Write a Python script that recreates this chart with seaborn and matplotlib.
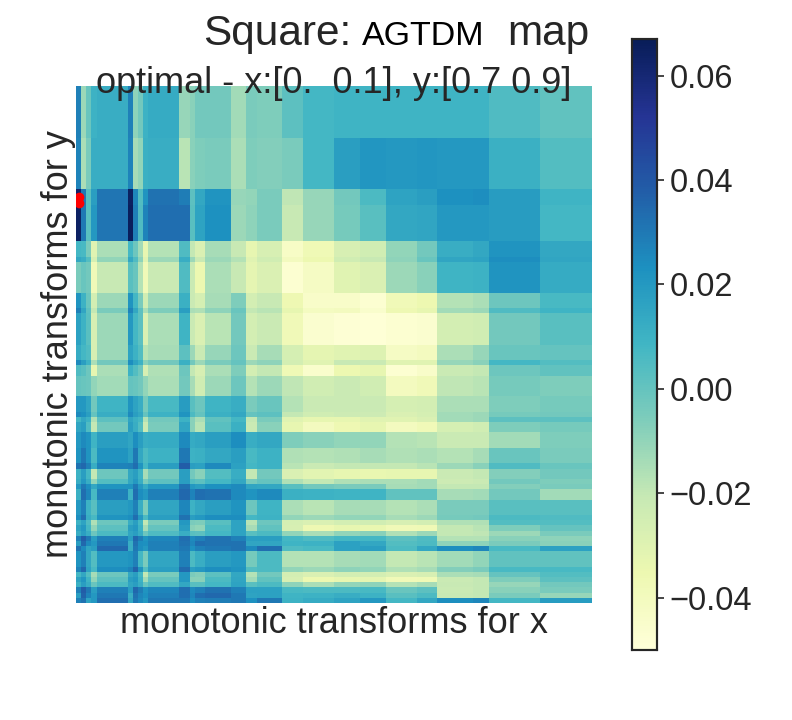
import numpy as np
import matplotlib
matplotlib.use("Agg")
import matplotlib.pyplot as plt
import seaborn as sns

sns.set_theme(style="white", font_scale=1.0)
plt.rcParams['font.family'] = ['Liberation Sans', 'DejaVu Sans']

# block edges of the transform grid (cell index, 100 x 100 cells)
x_edges = [0,1,2,3,4,10,11,12,13,14,20,22,23,25,30,33,35,40,44,50,55,60,66,70,77,80,90,100]
y_edges = [0,10,20,23,30,33,34,40,43,44,50,53,54,56,60,63,64,65,67,70,73,74,76,77,78,80,83,84,85,86,87,88,89,90,93,94,95,96,97,98,99,100]

# values, in thousandths
block_values = [
[28,-12,-1,10,12,28,-9,-3,10,13,-11,-8,-3,-3,-13,-5,-6,2,8,9,9,9,9,9,9,5,1],
[27,-15,-5,12,12,27,-14,-10,11,12,-18,-8,-6,-5,-15,-6,-7,-5,8,18,21,20,21,20,20,11,4],
[62,30,3,18,31,65,26,4,22,32,29,2,14,22,-11,-10,-5,-19,-11,-3,6,16,18,23,24,19,9],
[64,30,3,20,31,66,28,5,27,33,33,3,16,23,-12,-9,-5,-21,-11,-4,3,14,15,20,20,19,8],
[8,7,-5,-30,-15,8,-2,-13,-33,-17,5,-20,-28,-14,-21,-33,-27,-43,-37,-27,-24,-10,-3,12,14,22,14],
[14,12,4,-26,-10,14,5,-9,-30,-12,12,-12,-22,-12,-17,-30,-24,-40,-35,-24,-21,-9,-1,15,16,24,15],
[-5,-1,-3,-38,-21,3,-1,-17,-38,-22,5,-22,-35,-15,-21,-32,-28,-47,-42,-30,-28,-12,-8,9,10,22,13],
[22,10,-1,-25,-12,22,8,-5,-24,-12,11,-22,-26,-14,-6,-25,-21,-36,-44,-44,-47,-38,-35,-17,-15,-2,7],
[28,15,2,-20,-5,27,14,2,-15,-6,18,-15,-16,-9,-1,-20,-18,-33,-41,-40,-45,-36,-33,-13,-12,5,9],
[17,10,3,-27,-12,20,8,2,-28,-15,9,-22,-28,-18,-3,-25,-22,-38,-46,-48,-49,-47,-46,-25,-24,-3,3],
[13,8,5,-27,-12,16,10,4,-18,-14,2,-12,-22,-11,-2,-22,-14,-26,-32,-30,-29,-42,-40,-15,-11,-1,0],
[25,18,10,-15,-3,24,16,10,-8,-3,11,-3,-12,-5,0,-12,-9,-25,-30,-21,-22,-30,-30,-11,-8,8,4],
[5,3,-2,-33,-15,10,4,-2,-27,-16,-2,-20,-27,-15,-6,-25,-20,-37,-45,-35,-33,-47,-44,-22,-20,-2,1],
[0,-1,-2,-10,-13,0,-1,-3,-10,-15,-3,-14,-24,-12,-2,-17,-12,-19,-24,-22,-24,-40,-38,-19,-18,-4,-6],
[20,20,15,-3,9,22,16,12,-4,7,19,3,-2,9,12,-5,-1,-17,-22,-22,-22,-26,-25,-15,-15,-6,-4],
[25,23,18,0,12,25,18,14,0,10,22,6,0,11,14,0,2,-20,-24,-23,-23,-28,-26,-13,-12,-4,-3],
[8,14,10,-16,2,15,11,8,-17,-3,10,-8,-15,1,8,-20,-5,-30,-33,-33,-30,-30,-28,-13,-12,2,2],
[15,18,5,-20,-3,18,12,4,-22,-5,15,-8,-18,3,11,-22,-8,-33,-40,-36,-33,-40,-38,-26,-24,-6,-4],
[20,25,22,9,18,15,24,18,12,13,25,13,14,18,24,12,14,-6,-8,-10,-10,-17,-18,-22,-22,-13,-6],
[22,30,22,6,22,17,30,14,6,10,30,10,11,14,18,7,10,-16,-17,-16,-14,-16,-15,-17,-14,-1,-5],
[32,35,28,12,27,28,33,22,8,18,38,18,17,25,17,8,10,-18,-22,-20,-20,-20,-18,-12,-8,5,-1],
[10,18,8,-20,-2,14,18,10,-14,-3,18,-3,-8,4,12,-20,-3,-28,-31,-33,-34,-33,-33,-22,-20,-7,-3],
[12,20,12,-10,4,14,20,12,-5,2,18,4,2,8,14,-4,0,-16,-20,-16,-15,-15,-13,-23,-22,-3,-6],
[20,30,24,14,22,22,30,20,13,20,32,20,18,23,25,15,14,3,-3,-5,-5,-14,-13,-20,-20,-7,-5],
[11,33,26,7,28,10,33,24,20,28,35,27,33,32,25,22,25,11,10,9,9,1,1,-14,-13,-3,-13],
[20,28,10,3,18,20,28,12,-6,15,26,10,14,18,22,-2,9,-15,-18,-14,-14,-17,-15,-5,-5,3,3],
[24,33,12,7,22,24,33,20,6,18,32,18,20,24,24,8,10,-10,-12,-10,-10,-14,-12,-4,-3,6,5],
[10,16,5,-16,-2,12,18,8,-20,-5,20,-5,-6,3,16,-18,-2,-26,-28,-25,-24,-27,-25,-16,-16,4,4],
[16,20,8,-10,2,18,20,10,-14,0,18,-8,-10,6,16,-14,1,-27,-36,-33,-34,-38,-37,-20,-18,-6,0],
[12,18,12,-2,6,15,18,12,-2,5,12,3,2,8,16,3,6,-10,-15,-10,-8,-16,-12,-20,-19,-12,-5],
[28,38,30,18,28,18,35,29,22,26,33,25,28,32,28,18,18,8,5,8,8,2,5,-17,-17,-8,-9],
[18,35,25,20,30,12,32,24,23,28,32,26,33,32,32,15,15,9,10,17,14,4,6,-9,-9,-5,-8],
[32,25,15,18,35,12,30,24,20,28,30,23,28,30,32,25,33,5,7,17,18,6,14,24,26,7,17],
[22,28,14,4,20,22,28,8,-5,15,28,6,12,18,20,-4,6,-17,-17,-14,-13,-20,-18,-13,-10,1,1],
[27,35,16,7,24,27,36,22,4,18,34,18,20,24,22,4,6,-10,-12,-9,-10,-16,-14,-7,-5,7,7],
[8,14,4,-14,-2,14,18,8,-20,-5,20,-5,-7,2,14,-17,-3,-25,-28,-25,-25,-28,-27,-15,-14,0,4],
[16,21,9,-10,2,18,20,10,-13,0,20,-8,-8,6,15,-13,1,-27,-35,-33,-32,-38,-37,-22,-20,-6,2],
[11,18,12,-1,6,15,18,12,-1,5,14,3,3,8,16,3,6,-9,-15,-10,-9,-17,-14,-21,-20,-11,-3],
[28,38,30,18,28,18,35,29,22,26,33,25,28,32,28,17,17,7,6,6,7,-1,2,-22,-20,-8,-5],
[18,36,27,20,30,12,32,26,23,28,33,26,33,35,30,16,17,9,10,12,10,3,6,-21,-20,-5,-11],
[28,32,16,20,33,14,30,25,20,30,30,24,28,29,30,23,30,10,13,16,20,8,14,24,26,8,19],
]

# location of the optimum, in cell coordinates
opt_x = [0.5, 0.5]
opt_y = [21.5, 22.7]

title_parts = ["Square:", "AGTDM", "map"]
subtitle_text = "optimal - x:[0.  0.1], y:[0.7 0.9]"
x_label = "monotonic transforms for x"
y_label = "monotonic transforms for y"
cbar_ticks = [-0.04, -0.02, 0.0, 0.02, 0.04, 0.06]

grid = np.repeat(np.repeat(np.array(block_values, dtype=float) / 1000.0,
                           np.diff(y_edges), axis=0), np.diff(x_edges), axis=1)

fig = plt.figure(figsize=(7.92, 7.2), dpi=100)
ax = fig.add_axes([76/792, 1-603/720, 516/792, 517/720])
cax = fig.add_axes([632/792, 1-650/720, 25/792, 611/720])
sns.heatmap(grid, ax=ax, cmap="YlGnBu", vmin=-0.05, vmax=0.067, cbar_ax=cax,
            xticklabels=False, yticklabels=False, square=False, rasterized=True)
ax.plot(opt_x, opt_y, "o", color="red", ms=7, mew=0, clip_on=True)

cax.set_yticks(cbar_ticks)
cax.tick_params(labelsize=23.5, length=5, width=1.2, color="#262626", pad=4, labelcolor="#262626")
for s in cax.spines.values():
    s.set_visible(True); s.set_color("#262626"); s.set_linewidth(1.5)

ax.set_xlabel(x_label, fontsize=26, color="#262626", labelpad=2.5)
ax.set_ylabel(y_label, fontsize=26, color="#262626", labelpad=0)

fig.text(203/792, 1-45/720, title_parts[0], fontsize=30.5, color="#262626", ha="left", va="baseline")
fig.text(362/792, 1-45/720, title_parts[1], fontsize=24.5, color="black", ha="left", va="baseline")
fig.text(507/792, 1-45/720, title_parts[2], fontsize=30.5, color="#262626", ha="left", va="baseline")
fig.text(96/792, 1-93/720, subtitle_text, fontsize=26, color="#262626", ha="left", va="baseline")
fig.savefig("out.png", dpi=100)
